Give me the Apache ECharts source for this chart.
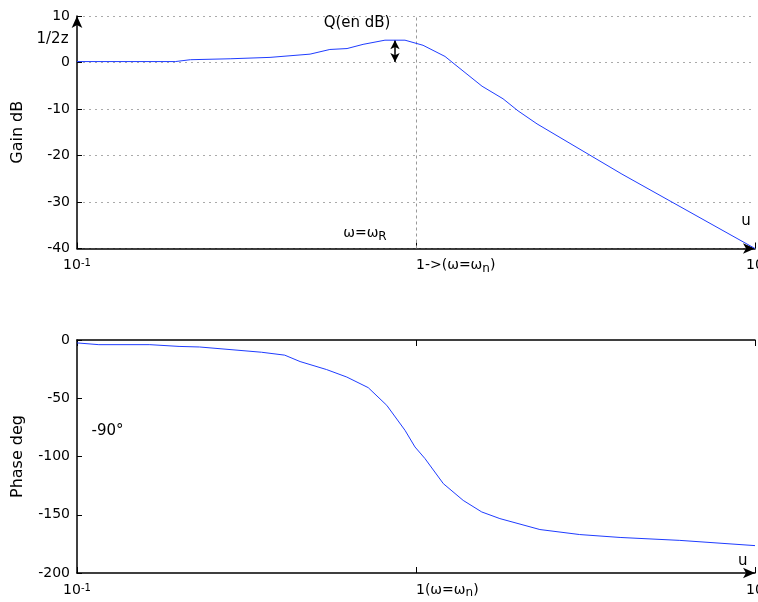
<!DOCTYPE html>
<html>
<head>
<meta charset="utf-8">
<script src="https://cdn.jsdelivr.net/npm/echarts@6/dist/echarts.min.js"></script>
<style>html,body{margin:0;padding:0;background:#fff;}#c{width:758px;height:602px;}</style>
</head>
<body>
<div id="c"></div>
<script>
// ---- data ----
var gainU    = [0.1, 0.195, 0.216, 0.283, 0.371, 0.487, 0.557, 0.626, 0.698, 0.81, 0.928, 1.049, 1.218, 1.286, 1.566, 1.806, 2.0, 2.275, 4.05, 10];
var gainDb   = [0.2, 0.2, 0.6, 0.8, 1.1, 1.8, 2.8, 3.0, 3.9, 4.8, 4.8, 3.7, 1.3, -0.1, -5.1, -7.8, -10.4, -13.2, -24.0, -40];
var phaseU   = [0.1, 0.116, 0.164, 0.2, 0.23, 0.35, 0.41, 0.455, 0.545, 0.625, 0.723, 0.82, 0.928, 0.993, 1.063, 1.204, 1.378, 1.563, 1.768, 2.32, 3.04, 4.0, 6.0, 10];
var phaseDeg = [-2.5, -4, -4, -5.5, -6, -10.5, -13, -18.5, -25.4, -31.8, -40.9, -56.1, -77.5, -91.8, -101.8, -123.3, -137.7, -147.6, -153.3, -162.7, -167, -169.5, -172, -176.5];
var gainTicks  = {min: -40, max: 10, step: 10};
var phaseTicks = {min: -200, max: 0, step: 50};
var topXLabels = {'-1': '{n|10}{sup|-1}', '0': '{n|1->(ω=ω}{sub|n}{n|)}', '1': '{n|10}'};
var botXLabels = {'-1': '{n|10}{sup|-1}', '0': '{n|1(ω=ω}{sub|n}{n|)}', '1': '{n|10}'};
var gainAnnot  = {peakU: 0.867, peakDb: 4.8, qU: 0.67, qDb: 8.3, wrU: 0.707, wrDb: -37, uU: 9.4, uDb: -34.4};
var phaseAnnot = {m90U: 0.123, m90Deg: -79, uU: 9.2, uDeg: -191};

function pairs(xs, ys) { return xs.map(function (x, i) { return [x, ys[i]]; }); }

var FONT = 'DejaVu Sans';
var rich = {
  n:   {fontSize: 14, fontFamily: FONT, color: '#000', lineHeight: 16, verticalAlign: 'top'},
  a:   {fontSize: 15, fontFamily: FONT, color: '#000', lineHeight: 17, verticalAlign: 'top'},
  sup: {fontSize: 10, fontFamily: FONT, color: '#000', lineHeight: 10, verticalAlign: 'top'},
  sub: {fontSize: 12, fontFamily: FONT, color: '#000', lineHeight: 12, verticalAlign: 'bottom', padding: [6, 0, 0, 0]}
};
function xFmt(map) {
  return function (v) { return map[String(Math.round(Math.log10(v)))] || ''; };
}
var axisLineStyle = {color: '#000', width: 1.5};

function xAxisBase(grid, pos, map, arrow, showLabel, margin) {
  return {
    type: 'log', logBase: 10, min: 0.1, max: 10, gridIndex: grid, position: pos,
    axisLine: {show: true, onZero: false, lineStyle: axisLineStyle,
               symbol: arrow ? ['none', 'arrow'] : ['none', 'none'], symbolSize: [8, 12]},
    axisTick: {show: true, inside: true, length: 6, lineStyle: {color: '#000', width: 1}},
    minorTick: {show: false},
    splitLine: {show: false},
    axisLabel: {show: showLabel, formatter: map ? xFmt(map) : '', rich: rich, margin: margin || 7,
                align: 'left', alignMinLabel: 'center', alignMaxLabel: 'center',
                showMinLabel: true, showMaxLabel: true}
  };
}

function textPoint(coord, text, pos, extra) {
  var lab = Object.assign({show: true, position: pos || 'inside', formatter: text, rich: rich,
             color: '#000', fontSize: 15, fontFamily: FONT}, extra || {});
  return {coord: coord, symbol: 'rect', symbolSize: 1, itemStyle: {color: 'rgba(0,0,0,0)'}, label: lab};
}

var nameStyle = {fontSize: 16, color: '#000', fontFamily: FONT};

var option = {
  backgroundColor: '#fff',
  animation: false,
  textStyle: {fontFamily: FONT},
  grid: [
    {left: 77, right: 3, top: 16, height: 232.5, containLabel: false, outerBoundsMode: 'none'},
    {left: 77, right: 3, top: 340, height: 233, containLabel: false, outerBoundsMode: 'none'}
  ],
  xAxis: [
    xAxisBase(0, 'bottom', topXLabels, true, true, 10),
    xAxisBase(1, 'bottom', botXLabels, true, true, 10),
    xAxisBase(1, 'top', null, false, false)
  ],
  yAxis: [
    {
      type: 'value', gridIndex: 0, min: gainTicks.min, max: gainTicks.max, interval: gainTicks.step,
      name: 'Gain dB', nameLocation: 'middle', nameGap: 51, nameTextStyle: nameStyle,
      axisLine: {show: true, onZero: false, lineStyle: axisLineStyle, symbol: ['none', 'arrow'], symbolSize: [8, 12]},
      axisTick: {show: true, inside: true, length: 5, lineStyle: {color: '#000'}},
      axisLabel: {fontSize: 14, color: '#000', fontFamily: FONT, margin: 7},
      splitLine: {show: true, lineStyle: {color: '#aaa', type: [2, 4], width: 1}}
    },
    {
      type: 'value', gridIndex: 1, min: phaseTicks.min, max: phaseTicks.max, interval: phaseTicks.step,
      name: 'Phase deg', nameLocation: 'middle', nameGap: 51, nameTextStyle: nameStyle,
      axisLine: {show: true, onZero: false, lineStyle: axisLineStyle},
      axisTick: {show: true, inside: true, length: 5, lineStyle: {color: '#000'}},
      axisLabel: {fontSize: 14, color: '#000', fontFamily: FONT, margin: 7},
      splitLine: {show: false}
    }
  ],
  series: [
    {
      type: 'line', xAxisIndex: 0, yAxisIndex: 0, data: pairs(gainU, gainDb),
      symbol: 'none', lineStyle: {color: '#1f3cff', width: 1}, z: 5,
      markLine: {
        silent: true, symbol: 'none', animation: false, label: {show: false},
        data: [
          {xAxis: 1, lineStyle: {color: '#999', type: [3, 3], width: 1}},
          [
            {coord: [gainAnnot.peakU, gainAnnot.peakDb], symbol: 'arrow', symbolSize: [7, 9], lineStyle: {color: '#000', width: 1.5, type: 'solid'}},
            {coord: [gainAnnot.peakU, 0.1], symbol: 'arrow', symbolSize: [7, 9]}
          ]
        ]
      },
      markPoint: {
        silent: true, animation: false,
        data: [
          textPoint([0.1, gainAnnot.peakDb], '{a|1/2z}', 'left', {distance: 8}),
          textPoint([gainAnnot.qU, gainAnnot.qDb], '{a|Q(en dB)}'),
          textPoint([gainAnnot.wrU, gainAnnot.wrDb], '{n|ω=ω}{sub|R}'),
          textPoint([gainAnnot.uU, gainAnnot.uDb], '{a|u}')
        ]
      }
    },
    {
      type: 'line', xAxisIndex: 1, yAxisIndex: 1, data: pairs(phaseU, phaseDeg),
      symbol: 'none', lineStyle: {color: '#1f3cff', width: 1}, z: 5,
      markPoint: {
        silent: true, animation: false,
        data: [
          textPoint([phaseAnnot.m90U, phaseAnnot.m90Deg], '{a|-90°}'),
          textPoint([phaseAnnot.uU, phaseAnnot.uDeg], '{a|u}')
        ]
      }
    }
  ]
};
var chart = echarts.init(document.getElementById('c'), null, {renderer: 'canvas'});
chart.setOption(option);
</script>
</body>
</html>
